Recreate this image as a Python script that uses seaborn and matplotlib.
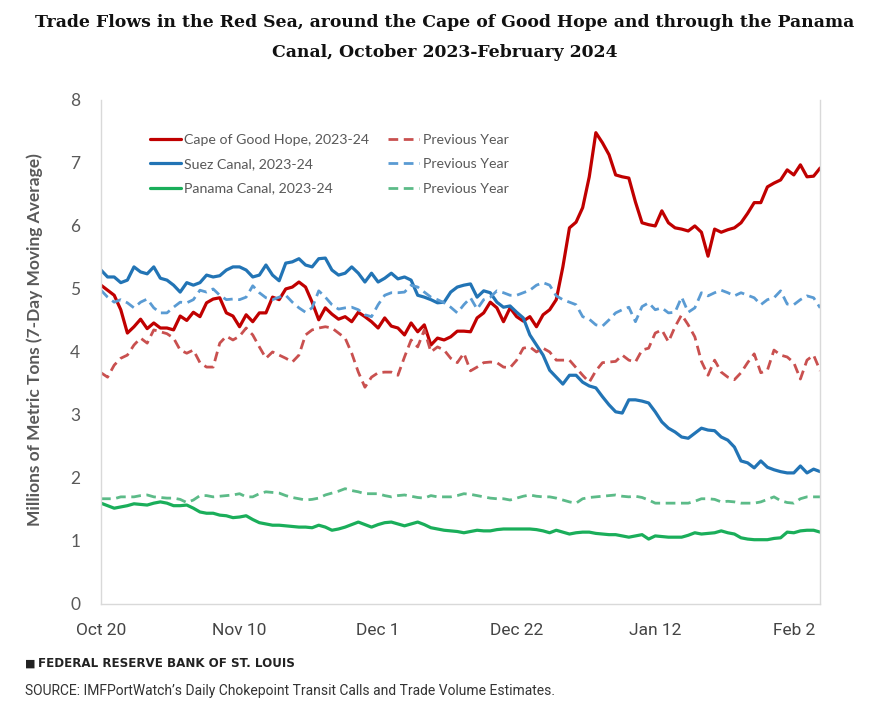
import numpy as np
import pandas as pd
import matplotlib
matplotlib.use('Agg')
import matplotlib.pyplot as plt
import seaborn as sns

# daily 7-day moving averages, millions of metric tons
dates = pd.date_range('2023-10-20', periods=110, freq='D')

cape = [5.06, 4.98, 4.9, 4.67, 4.3, 4.4, 4.52, 4.37, 4.46, 4.38,
        4.38, 4.35, 4.57, 4.5, 4.63, 4.56, 4.78, 4.84, 4.86, 4.62,
        4.57, 4.4, 4.59, 4.48, 4.62, 4.62, 4.87, 4.83, 5.0, 5.03,
        5.11, 5.03, 4.79, 4.51, 4.7, 4.6, 4.52, 4.56, 4.48, 4.63,
        4.56, 4.48, 4.38, 4.54, 4.41, 4.38, 4.27, 4.46, 4.32, 4.43,
        4.11, 4.22, 4.19, 4.24, 4.33, 4.33, 4.32, 4.54, 4.62, 4.79,
        4.7, 4.48, 4.7, 4.56, 4.49, 4.56, 4.4, 4.59, 4.67, 4.83,
        5.35, 5.97, 6.06, 6.29, 6.78, 7.48, 7.32, 7.13, 6.81, 6.78,
        6.76, 6.38, 6.05, 6.02, 6.0, 6.24, 6.05, 5.97, 5.95, 5.92,
        6.0, 5.9, 5.52, 5.95, 5.9, 5.94, 5.97, 6.05, 6.2, 6.37,
        6.37, 6.62, 6.68, 6.73, 6.89, 6.81, 6.97, 6.78, 6.79, 6.92]

cape_prev = [3.67, 3.6, 3.79, 3.9, 3.95, 4.11, 4.22, 4.14, 4.35, 4.32,
             4.29, 4.22, 4.03, 3.98, 4.03, 3.83, 3.76, 3.76, 4.14, 4.25,
             4.19, 4.25, 4.38, 4.27, 4.08, 3.9, 4.0, 3.95, 3.9, 3.84,
             3.95, 4.27, 4.35, 4.38, 4.4, 4.38, 4.3, 4.22, 3.98, 3.68,
             3.44, 3.6, 3.67, 3.68, 3.68, 3.63, 3.92, 4.19, 4.08, 4.35,
             4.0, 4.08, 4.03, 3.9, 3.83, 3.98, 3.7, 3.76, 3.83, 3.84,
             3.83, 3.76, 3.75, 3.87, 4.06, 4.08, 4.0, 4.06, 4.0, 3.87,
             3.87, 3.87, 3.75, 3.63, 3.52, 3.7, 3.83, 3.84, 3.85, 3.95,
             3.87, 3.84, 4.03, 4.06, 4.3, 4.35, 4.16, 4.4, 4.59, 4.43,
             4.24, 3.85, 3.63, 3.87, 3.68, 3.6, 3.56, 3.67, 3.83, 3.97,
             3.67, 3.71, 4.03, 3.95, 3.92, 3.83, 3.57, 3.87, 3.95, 3.7]

suez = [5.3, 5.19, 5.19, 5.1, 5.14, 5.35, 5.27, 5.24, 5.35, 5.17,
        5.14, 5.06, 4.95, 5.1, 5.06, 5.1, 5.22, 5.19, 5.21, 5.3,
        5.35, 5.35, 5.3, 5.19, 5.22, 5.38, 5.22, 5.13, 5.41, 5.43,
        5.48, 5.38, 5.35, 5.48, 5.49, 5.3, 5.22, 5.25, 5.35, 5.25,
        5.11, 5.25, 5.11, 5.17, 5.25, 5.16, 5.19, 5.14, 4.9, 4.87,
        4.83, 4.78, 4.79, 4.95, 5.03, 5.06, 5.08, 4.87, 4.97, 4.94,
        4.79, 4.71, 4.73, 4.63, 4.54, 4.27, 4.11, 3.95, 3.71, 3.6,
        3.49, 3.63, 3.63, 3.52, 3.46, 3.43, 3.29, 3.16, 3.05, 3.03,
        3.24, 3.24, 3.22, 3.19, 3.05, 2.89, 2.79, 2.73, 2.65, 2.63,
        2.71, 2.79, 2.76, 2.75, 2.65, 2.6, 2.49, 2.27, 2.24, 2.16,
        2.27, 2.17, 2.13, 2.1, 2.08, 2.08, 2.19, 2.08, 2.14, 2.1]

suez_prev = [4.98, 4.87, 4.79, 4.83, 4.78, 4.7, 4.79, 4.84, 4.7, 4.62,
             4.62, 4.71, 4.79, 4.78, 4.83, 4.98, 4.95, 5.0, 4.9, 4.83,
             4.84, 4.83, 4.87, 5.05, 4.94, 4.86, 4.83, 4.87, 4.9, 4.79,
             4.7, 4.63, 4.7, 4.97, 4.87, 4.75, 4.68, 4.7, 4.71, 4.67,
             4.59, 4.56, 4.75, 4.9, 4.94, 4.94, 4.95, 5.06, 5.03, 4.95,
             4.87, 4.83, 4.78, 4.71, 4.62, 4.75, 4.86, 4.68, 4.83, 4.87,
             4.97, 4.94, 4.9, 4.9, 4.94, 4.98, 5.06, 5.1, 5.06, 4.89,
             4.83, 4.79, 4.75, 4.56, 4.52, 4.43, 4.41, 4.51, 4.62, 4.67,
             4.71, 4.48, 4.72, 4.78, 4.67, 4.7, 4.62, 4.63, 4.87, 4.63,
             4.7, 4.94, 4.89, 4.94, 4.98, 4.94, 4.89, 4.94, 4.9, 4.86,
             4.75, 4.83, 4.86, 4.97, 4.76, 4.75, 4.83, 4.89, 4.86, 4.7]

panama = [1.6, 1.56, 1.52, 1.54, 1.56, 1.59, 1.58, 1.57, 1.6, 1.62,
          1.6, 1.56, 1.56, 1.57, 1.52, 1.46, 1.44, 1.44, 1.41, 1.4,
          1.37, 1.38, 1.4, 1.34, 1.29, 1.27, 1.25, 1.25, 1.24, 1.23,
          1.22, 1.22, 1.21, 1.25, 1.22, 1.17, 1.19, 1.22, 1.26, 1.3,
          1.26, 1.22, 1.26, 1.29, 1.3, 1.27, 1.24, 1.27, 1.3, 1.26,
          1.21, 1.19, 1.17, 1.16, 1.15, 1.13, 1.15, 1.17, 1.16, 1.16,
          1.18, 1.19, 1.19, 1.19, 1.19, 1.19, 1.18, 1.16, 1.13, 1.17,
          1.14, 1.11, 1.13, 1.14, 1.14, 1.12, 1.11, 1.1, 1.1, 1.08,
          1.06, 1.08, 1.1, 1.03, 1.08, 1.07, 1.06, 1.06, 1.06, 1.09,
          1.13, 1.11, 1.12, 1.13, 1.16, 1.13, 1.11, 1.05, 1.03, 1.02,
          1.02, 1.02, 1.04, 1.05, 1.14, 1.13, 1.16, 1.17, 1.17, 1.14]

panama_prev = [1.67, 1.67, 1.67, 1.7, 1.7, 1.7, 1.72, 1.73, 1.7, 1.69,
               1.68, 1.68, 1.66, 1.61, 1.65, 1.72, 1.72, 1.7, 1.71, 1.72,
               1.73, 1.75, 1.7, 1.7, 1.75, 1.78, 1.77, 1.76, 1.72, 1.69,
               1.67, 1.65, 1.66, 1.68, 1.73, 1.76, 1.79, 1.83, 1.8, 1.78,
               1.75, 1.75, 1.75, 1.72, 1.7, 1.72, 1.73, 1.71, 1.69, 1.68,
               1.72, 1.7, 1.7, 1.7, 1.72, 1.75, 1.74, 1.72, 1.7, 1.68,
               1.67, 1.67, 1.65, 1.68, 1.71, 1.73, 1.71, 1.7, 1.7, 1.68,
               1.65, 1.62, 1.6, 1.67, 1.69, 1.7, 1.71, 1.72, 1.73, 1.71,
               1.7, 1.71, 1.69, 1.65, 1.6, 1.6, 1.6, 1.6, 1.6, 1.6,
               1.63, 1.67, 1.67, 1.66, 1.62, 1.63, 1.62, 1.6, 1.6, 1.6,
               1.62, 1.66, 1.7, 1.64, 1.61, 1.6, 1.67, 1.7, 1.7, 1.7]

labels = ['Cape of Good Hope, 2023-24', 'Suez Canal, 2023-24', 'Panama Canal, 2023-24',
          'Previous Year', 'Previous Year', 'Previous Year']
tick_dates = pd.to_datetime(['2023-10-20', '2023-11-10', '2023-12-01',
                             '2023-12-22', '2024-01-12', '2024-02-02'])
tick_labels = ['Oct 20', 'Nov 10', 'Dec 1', 'Dec 22', 'Jan 12', 'Feb 2']

df = pd.DataFrame({'date': dates, 'cape': cape, 'suez': suez, 'panama': panama,
                   'cape_prev': cape_prev, 'suez_prev': suez_prev,
                   'panama_prev': panama_prev})

sns.set_style('white')
plt.rcParams['font.family'] = ['Lato', 'DejaVu Sans']

fig = plt.figure(figsize=(8.89, 7.19), dpi=100)
ax = fig.add_axes([0.1136, 0.16, 0.809, 0.701])

dash = (0, (3.5, 2))
series = [('cape', '#C00000', '-', 2.3),
          ('suez', '#2274B5', '-', 2.3),
          ('panama', '#1AAE5A', '-', 2.3),
          ('cape_prev', '#C9504F', dash, 2.0),
          ('suez_prev', '#5A9BD3', dash, 2.0),
          ('panama_prev', '#5CBB88', dash, 2.0)]
for (col, color, ls, lw), lab in zip(series, labels):
    sns.lineplot(data=df, x='date', y=col, ax=ax, color=color, linestyle=ls,
                 linewidth=lw, label=lab)

ax.set_xlim(dates[0], dates[-1])
ax.set_ylim(0, 8)
ax.set_yticks(range(0, 9))
ax.set_xticks(tick_dates)
ax.set_xticklabels(tick_labels, fontfamily='Roboto', fontsize=12.5, color='#444444')
ax.tick_params(axis='y', labelsize=12.5, labelcolor='#595959', length=5,
               color='#d9d9d9', pad=10)
ax.tick_params(axis='x', length=0, pad=14)
ax.set_xlabel('')
ax.set_ylabel('Millions of Metric Tons (7-Day Moving Average)', fontsize=12.5,
              fontweight='bold', color='#595959')
ax.yaxis.set_label_coords(-0.081, 0.524)

for side in ['left', 'bottom', 'right']:
    ax.spines[side].set_color('#d9d9d9')
    ax.spines[side].set_linewidth(1)
ax.spines['top'].set_visible(False)

leg = ax.legend(loc='upper left', bbox_to_anchor=(0.05, 0.958), ncol=2,
                frameon=False, fontsize=10.2, handlelength=2.2, handletextpad=0.25,
                columnspacing=1.3, labelspacing=0.87, labelcolor='#595959')

fig.text(0.5, 0.969, 'Trade Flows in the Red Sea, around the Cape of Good Hope and through the Panama',
         ha='center', va='center', fontfamily='DejaVu Serif', fontweight='bold',
         fontsize=12.4, color='#111111')
fig.text(0.5, 0.927, 'Canal, October 2023-February 2024',
         ha='center', va='center', fontfamily='DejaVu Serif', fontweight='bold',
         fontsize=12.4, color='#111111')

fig.text(0.028, 0.0765, '■', ha='left', va='center', fontfamily='DejaVu Sans',
         fontsize=8, color='#222222')
fig.text(0.043, 0.0765, 'FEDERAL RESERVE BANK OF ST. LOUIS', ha='left', va='center',
         fontfamily='DejaVu Sans', fontweight='bold', fontsize=8.6, color='#222222')
fig.text(0.028, 0.039, 'SOURCE: IMFPortWatch\u2019s Daily Chokepoint Transit Calls and Trade Volume Estimates.',
         ha='left', va='center', fontfamily='Roboto', fontsize=10, color='#333333')

fig.savefig('out.png', dpi=100)
